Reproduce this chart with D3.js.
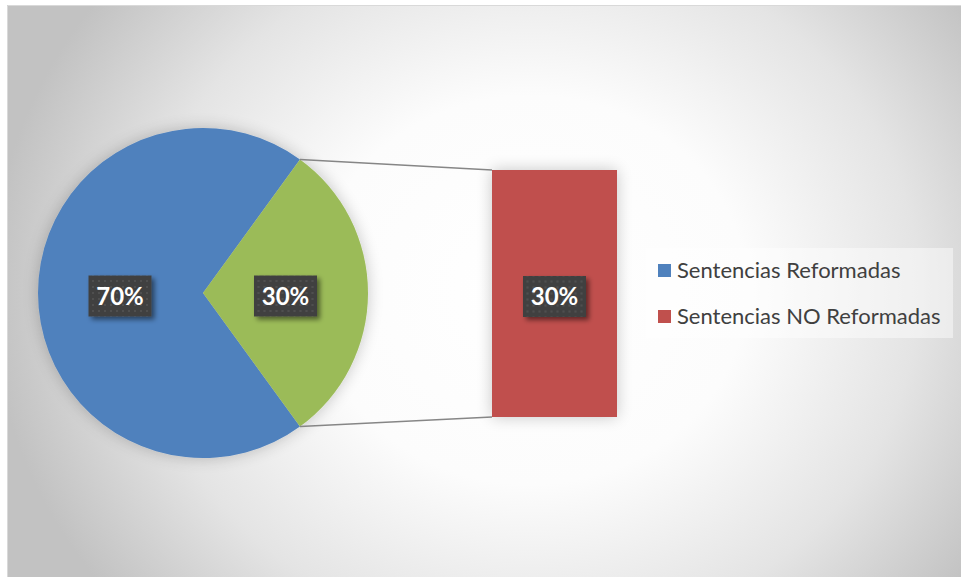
<!DOCTYPE html>
<html>
<head>
<meta charset="utf-8">
<script src="https://cdn.jsdelivr.net/npm/d3@7"></script>
<style>
html,body{margin:0;padding:0;background:#fff;}
svg{display:block;}
</style>
</head>
<body>
<svg id="chart" width="961" height="577"></svg>
<script>
// ---- data ----
const categories = ["Sentencias Reformadas", "Sentencias NO Reformadas"];
const pieValues = [70, 30];          // blue main slice, green "other" slice
const pieLabels = ["70%", "30%"];
const barValues = [30];              // secondary bar (Sentencias NO Reformadas)
const barLabels = ["30%"];
const colors = ["#4F81BD", "#C0504D"];
const pieColors = ["#4F81BD", "#9BBB59"];

const svg = d3.select("#chart");
const W = 961, H = 577;
const defs = svg.append("defs");

// background radial gradient
const rg = defs.append("radialGradient").attr("id","bg")
  .attr("gradientUnits","userSpaceOnUse")
  .attr("cx",530).attr("cy",290).attr("r",540)
  .attr("gradientTransform","translate(530,290) scale(1,0.9) translate(-530,-290)");
rg.append("stop").attr("offset","0").attr("stop-color","#ffffff");
rg.append("stop").attr("offset","0.4").attr("stop-color","#fcfcfc");
rg.append("stop").attr("offset","0.72").attr("stop-color","#e4e4e4");
rg.append("stop").attr("offset","1").attr("stop-color","#c2c2c2");

// glow/shadow filter
const f = defs.append("filter").attr("id","glow").attr("x","-20%").attr("y","-20%").attr("width","140%").attr("height","140%");
f.append("feGaussianBlur").attr("in","SourceAlpha").attr("stdDeviation",8).attr("result","b");
f.append("feComponentTransfer").attr("in","b").attr("result","b2")
  .append("feFuncA").attr("type","linear").attr("slope",0.22);
const fm = f.append("feMerge");
fm.append("feMergeNode").attr("in","b2");
fm.append("feMergeNode").attr("in","SourceGraphic");

// label shadow
const f2 = defs.append("filter").attr("id","lblShadow").attr("x","-30%").attr("y","-30%").attr("width","170%").attr("height","170%");
f2.append("feGaussianBlur").attr("in","SourceAlpha").attr("stdDeviation",2.5).attr("result","b");
f2.append("feOffset").attr("in","b").attr("dx",3).attr("dy",3).attr("result","o");
f2.append("feComponentTransfer").attr("in","o").attr("result","o2")
  .append("feFuncA").attr("type","linear").attr("slope",0.5);
const fm2 = f2.append("feMerge");
fm2.append("feMergeNode").attr("in","o2");
fm2.append("feMergeNode").attr("in","SourceGraphic");

// dotted pattern for labels
const pat = defs.append("pattern").attr("id","dots").attr("patternUnits","userSpaceOnUse")
  .attr("width",6).attr("height",6);
pat.append("rect").attr("width",6).attr("height",6).attr("fill","#404040");
pat.append("circle").attr("cx",3).attr("cy",3).attr("r",0.9).attr("fill","#565656");

// background
svg.append("rect").attr("x",7).attr("y",5).attr("width",W-7).attr("height",H-5).attr("fill","url(#bg)");
svg.append("path").attr("d",`M7.5,${H} V5.5 H${W}`).attr("fill","none").attr("stroke","#d9d9d9").attr("stroke-width",1);

// ---- pie ----
const cx = 203, cy = 293, R = 165;
const pie = d3.pie().sort(null).startAngle(144*Math.PI/180).endAngle(504*Math.PI/180);
const arcs = pie(pieValues);
const arc = d3.arc().innerRadius(0).outerRadius(R);
const gPie = svg.append("g").attr("transform",`translate(${cx},${cy})`).attr("filter","url(#glow)");
gPie.selectAll("path").data(arcs).join("path")
  .attr("d",arc).attr("fill",(d,i)=>pieColors[i]);

// ---- bar ----
const x = d3.scaleBand().domain([categories[1]]).range([492,617]).padding(0);
const y = d3.scaleLinear().domain([0, barValues[0]]).range([417,170]);
const gBar = svg.append("g").attr("filter","url(#glow)");
gBar.selectAll("rect").data(barValues).join("rect")
  .attr("x",x(categories[1])).attr("width",x.bandwidth())
  .attr("y",d=>y(d)).attr("height",d=>y(0)-y(d))
  .attr("fill",colors[1]);

// connector lines from green slice edges to bar corners
const green = arcs[1];
function pt(a){ return [cx + R*Math.sin(a), cy - R*Math.cos(a)]; }
const p1 = pt(green.startAngle), p2 = pt(green.endAngle);
const lines = [[p1,[x(categories[1]), y(barValues[0])]],[p2,[x(categories[1]), y(0)]]];
svg.selectAll("line.conn").data(lines).join("line").attr("class","conn")
  .attr("x1",d=>d[0][0]).attr("y1",d=>d[0][1]).attr("x2",d=>d[1][0]).attr("y2",d=>d[1][1])
  .attr("stroke","#868686").attr("stroke-width",1.5);

// ---- labels ----
function label(px, py, txt){
  const g = svg.append("g").attr("transform",`translate(${px},${py})`);
  g.append("rect").attr("x",-31.5).attr("y",-20.5).attr("width",63).attr("height",41)
    .attr("fill","url(#dots)").attr("filter","url(#lblShadow)");
  g.append("text").attr("text-anchor","middle").attr("dy","0.36em")
    .attr("font-family","Lato, 'Open Sans', sans-serif").attr("font-weight","bold")
    .attr("font-size",24).attr("fill","#ffffff").text(txt);
}
const labelArc = d3.arc().innerRadius(R*0.5).outerRadius(R*0.5);
label(cx - 83, cy + 3, pieLabels[0]);
const c2 = labelArc.centroid(green);
label(cx + c2[0], cy + c2[1] + 3, pieLabels[1]);
label(x(categories[1]) + x.bandwidth()/2, (y(0)+y(barValues[0]))/2 + 3, barLabels[0]);

// ---- legend ----
const gL = svg.append("g");
gL.append("rect").attr("x",646).attr("y",248).attr("width",307).attr("height",90)
  .attr("fill","#ffffff").attr("fill-opacity",0.45);
const items = gL.selectAll("g.it").data(categories).join("g").attr("class","it")
  .attr("transform",(d,i)=>`translate(658,${270 + i*46})`);
items.append("rect").attr("x",0).attr("y",-6).attr("width",13).attr("height",13)
  .attr("fill",(d,i)=>colors[i]);
items.append("text").attr("x",19).attr("y",0).attr("dy","0.35em")
  .attr("font-family","Lato, 'Open Sans', sans-serif").attr("font-size",22)
  .attr("fill","#404040").text(d=>d);
</script>
</body>
</html>
